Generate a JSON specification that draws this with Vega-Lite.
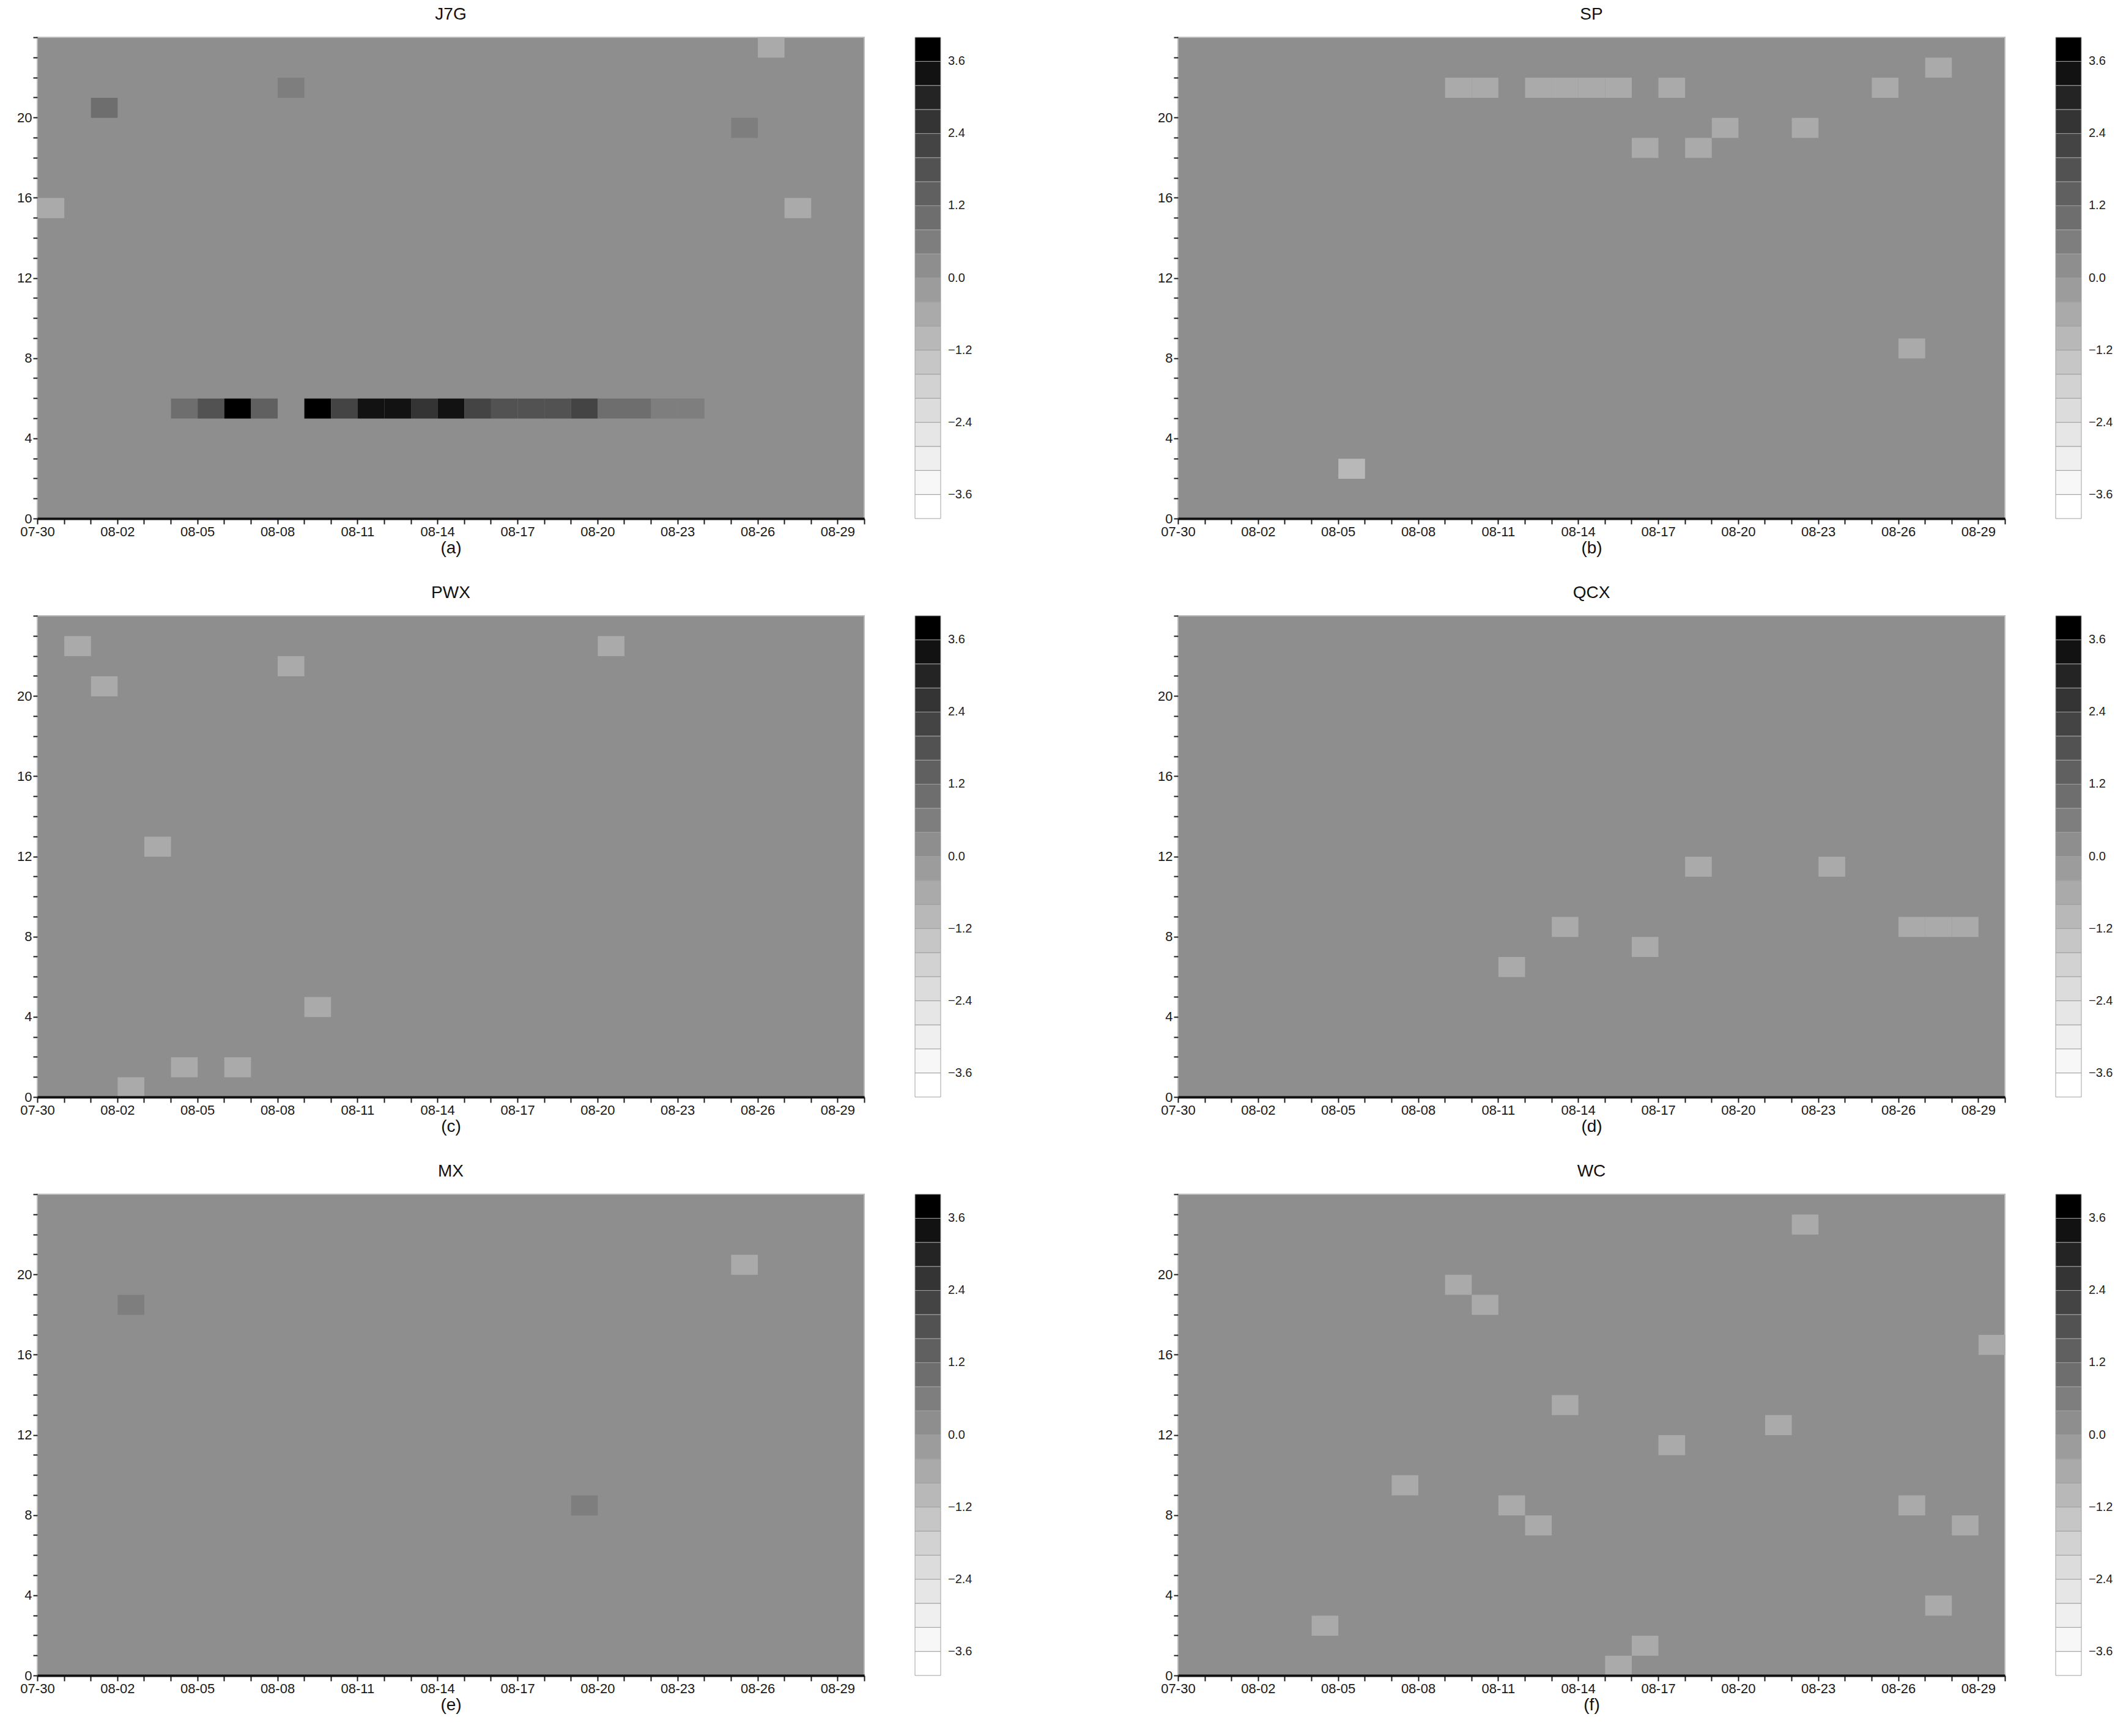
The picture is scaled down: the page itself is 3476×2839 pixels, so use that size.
{
  "$schema": "https://vega.github.io/schema/vega-lite/v6.json",
  "background": "white",
  "padding": {"left": 26, "top": 9, "right": 5, "bottom": 5},
  "columns": 2,
  "spacing": {"row": 44, "column": 300},
  "datasets": {
    "cells": [
      {"p": "J7G", "d": 0, "h": 15, "v": -0.6},
      {"p": "J7G", "d": 2, "h": 20, "v": 1.0},
      {"p": "J7G", "d": 9, "h": 21, "v": 0.6},
      {"p": "J7G", "d": 26, "h": 19, "v": 0.6},
      {"p": "J7G", "d": 27, "h": 23, "v": -0.6},
      {"p": "J7G", "d": 28, "h": 15, "v": -0.6},
      {"p": "J7G", "d": 5, "h": 5, "v": 1.0},
      {"p": "J7G", "d": 6, "h": 5, "v": 1.9},
      {"p": "J7G", "d": 7, "h": 5, "v": 3.8},
      {"p": "J7G", "d": 8, "h": 5, "v": 1.5},
      {"p": "J7G", "d": 10, "h": 5, "v": 3.8},
      {"p": "J7G", "d": 11, "h": 5, "v": 2.2},
      {"p": "J7G", "d": 12, "h": 5, "v": 3.3},
      {"p": "J7G", "d": 13, "h": 5, "v": 3.3},
      {"p": "J7G", "d": 14, "h": 5, "v": 2.7},
      {"p": "J7G", "d": 15, "h": 5, "v": 3.4},
      {"p": "J7G", "d": 16, "h": 5, "v": 2.1},
      {"p": "J7G", "d": 17, "h": 5, "v": 1.7},
      {"p": "J7G", "d": 18, "h": 5, "v": 1.7},
      {"p": "J7G", "d": 19, "h": 5, "v": 1.7},
      {"p": "J7G", "d": 20, "h": 5, "v": 2.3},
      {"p": "J7G", "d": 21, "h": 5, "v": 1.0},
      {"p": "J7G", "d": 22, "h": 5, "v": 1.0},
      {"p": "J7G", "d": 23, "h": 5, "v": 0.5},
      {"p": "J7G", "d": 24, "h": 5, "v": 0.5},
      {"p": "SP", "d": 10, "h": 21, "v": -0.6},
      {"p": "SP", "d": 11, "h": 21, "v": -0.6},
      {"p": "SP", "d": 13, "h": 21, "v": -0.6},
      {"p": "SP", "d": 14, "h": 21, "v": -0.6},
      {"p": "SP", "d": 15, "h": 21, "v": -0.6},
      {"p": "SP", "d": 16, "h": 21, "v": -0.6},
      {"p": "SP", "d": 18, "h": 21, "v": -0.6},
      {"p": "SP", "d": 26, "h": 21, "v": -0.6},
      {"p": "SP", "d": 28, "h": 22, "v": -0.6},
      {"p": "SP", "d": 20, "h": 19, "v": -0.6},
      {"p": "SP", "d": 23, "h": 19, "v": -0.6},
      {"p": "SP", "d": 17, "h": 18, "v": -0.6},
      {"p": "SP", "d": 19, "h": 18, "v": -0.6},
      {"p": "SP", "d": 27, "h": 8, "v": -0.6},
      {"p": "SP", "d": 6, "h": 2, "v": -1.0},
      {"p": "PWX", "d": 1, "h": 22, "v": -0.6},
      {"p": "PWX", "d": 2, "h": 20, "v": -0.6},
      {"p": "PWX", "d": 9, "h": 21, "v": -0.6},
      {"p": "PWX", "d": 21, "h": 22, "v": -0.6},
      {"p": "PWX", "d": 4, "h": 12, "v": -0.6},
      {"p": "PWX", "d": 10, "h": 4, "v": -0.6},
      {"p": "PWX", "d": 5, "h": 1, "v": -0.6},
      {"p": "PWX", "d": 7, "h": 1, "v": -0.6},
      {"p": "PWX", "d": 3, "h": 0, "v": -0.6},
      {"p": "QCX", "d": 12, "h": 6, "v": -0.6},
      {"p": "QCX", "d": 14, "h": 8, "v": -0.6},
      {"p": "QCX", "d": 17, "h": 7, "v": -0.6},
      {"p": "QCX", "d": 19, "h": 11, "v": -0.6},
      {"p": "QCX", "d": 24, "h": 11, "v": -0.6},
      {"p": "QCX", "d": 27, "h": 8, "v": -0.6},
      {"p": "QCX", "d": 28, "h": 8, "v": -0.6},
      {"p": "QCX", "d": 29, "h": 8, "v": -0.6},
      {"p": "MX", "d": 3, "h": 18, "v": 0.6},
      {"p": "MX", "d": 20, "h": 8, "v": 0.6},
      {"p": "MX", "d": 26, "h": 20, "v": -0.6},
      {"p": "WC", "d": 23, "h": 22, "v": -0.6},
      {"p": "WC", "d": 10, "h": 19, "v": -0.6},
      {"p": "WC", "d": 11, "h": 18, "v": -0.6},
      {"p": "WC", "d": 30, "h": 16, "v": -0.6},
      {"p": "WC", "d": 14, "h": 13, "v": -0.6},
      {"p": "WC", "d": 22, "h": 12, "v": -0.6},
      {"p": "WC", "d": 18, "h": 11, "v": -0.6},
      {"p": "WC", "d": 8, "h": 9, "v": -0.6},
      {"p": "WC", "d": 12, "h": 8, "v": -0.6},
      {"p": "WC", "d": 13, "h": 7, "v": -0.6},
      {"p": "WC", "d": 27, "h": 8, "v": -0.6},
      {"p": "WC", "d": 29, "h": 7, "v": -0.6},
      {"p": "WC", "d": 28, "h": 3, "v": -0.6},
      {"p": "WC", "d": 5, "h": 2, "v": -0.6},
      {"p": "WC", "d": 17, "h": 1, "v": -0.6},
      {"p": "WC", "d": 16, "h": 0, "v": -0.6}
    ]
  },
  "data": {"name": "cells"},
  "concat": [
    {
      "title": "J7G", "width": 1352, "height": 787,
      "transform": [{"filter": "datum.p === 'J7G'"}],
      "mark": {"type": "rect"},
      "encoding": {
        "x": {"field": "d", "type": "quantitative", "bin": {"binned": true, "step": 1}, "scale": {"domain": [0, 31], "nice": false, "zero": false},
          "axis": {"title": "(a)", "values": [0,1,2,3,4,5,6,7,8,9,10,11,12,13,14,15,16,17,18,19,20,21,22,23,24,25,26,27,28,29,30,31], "labelExpr": "datum.value % 3 === 0 && datum.value < 31 ? timeFormat(datetime(2024, 6, 30 + datum.value), '%m-%d') : ''"}},
        "y": {"field": "h", "type": "quantitative", "bin": {"binned": true, "step": 1}, "scale": {"domain": [0, 24], "nice": false, "zero": false},
          "axis": {"title": null, "values": [0,1,2,3,4,5,6,7,8,9,10,11,12,13,14,15,16,17,18,19,20,21,22,23,24], "labelExpr": "datum.value % 4 === 0 && datum.value < 24 ? datum.value : ''"}},
        "color": {"field": "v", "type": "quantitative",
          "scale": {"type": "threshold", "domain": [-3.6,-3.2,-2.8,-2.4,-2.0,-1.6,-1.2,-0.8,-0.4,0,0.4,0.8,1.2,1.6,2.0,2.4,2.8,3.2,3.6],
            "range": ["#ffffff","#f7f7f7","#efefef","#e6e6e6","#dcdcdc","#d2d2d2","#c6c6c6","#b8b8b8","#aaaaaa","#9c9c9c","#8e8e8e","#7e7e7e","#6e6e6e","#606060","#525252","#444444","#343434","#242424","#121212","#000000"]},
          "legend": {"type": "gradient", "title": null, "orient": "right", "offset": 83, "gradientLength": 787, "gradientThickness": 42, "gradientStrokeColor": "#a0a0a0", "gradientStrokeWidth": 1, "labelExpr": "abs(round(datum.value * 10)) % 12 === 0 ? format(datum.value, '.1f') : ''", "labelOverlap": false, "labelFontSize": 20, "labelOffset": 12, "labelColor": "#222222", "padding": 0}}
      }
    },
    {
      "title": "SP", "width": 1352, "height": 787,
      "transform": [{"filter": "datum.p === 'SP'"}],
      "mark": {"type": "rect"},
      "encoding": {
        "x": {"field": "d", "type": "quantitative", "bin": {"binned": true, "step": 1}, "scale": {"domain": [0, 31], "nice": false, "zero": false},
          "axis": {"title": "(b)", "values": [0,1,2,3,4,5,6,7,8,9,10,11,12,13,14,15,16,17,18,19,20,21,22,23,24,25,26,27,28,29,30,31], "labelExpr": "datum.value % 3 === 0 && datum.value < 31 ? timeFormat(datetime(2024, 6, 30 + datum.value), '%m-%d') : ''"}},
        "y": {"field": "h", "type": "quantitative", "bin": {"binned": true, "step": 1}, "scale": {"domain": [0, 24], "nice": false, "zero": false},
          "axis": {"title": null, "values": [0,1,2,3,4,5,6,7,8,9,10,11,12,13,14,15,16,17,18,19,20,21,22,23,24], "labelExpr": "datum.value % 4 === 0 && datum.value < 24 ? datum.value : ''"}},
        "color": {"field": "v", "type": "quantitative",
          "scale": {"type": "threshold", "domain": [-3.6,-3.2,-2.8,-2.4,-2.0,-1.6,-1.2,-0.8,-0.4,0,0.4,0.8,1.2,1.6,2.0,2.4,2.8,3.2,3.6],
            "range": ["#ffffff","#f7f7f7","#efefef","#e6e6e6","#dcdcdc","#d2d2d2","#c6c6c6","#b8b8b8","#aaaaaa","#9c9c9c","#8e8e8e","#7e7e7e","#6e6e6e","#606060","#525252","#444444","#343434","#242424","#121212","#000000"]},
          "legend": {"type": "gradient", "title": null, "orient": "right", "offset": 83, "gradientLength": 787, "gradientThickness": 42, "gradientStrokeColor": "#a0a0a0", "gradientStrokeWidth": 1, "labelExpr": "abs(round(datum.value * 10)) % 12 === 0 ? format(datum.value, '.1f') : ''", "labelOverlap": false, "labelFontSize": 20, "labelOffset": 12, "labelColor": "#222222", "padding": 0}}
      }
    },
    {
      "title": "PWX", "width": 1352, "height": 787,
      "transform": [{"filter": "datum.p === 'PWX'"}],
      "mark": {"type": "rect"},
      "encoding": {
        "x": {"field": "d", "type": "quantitative", "bin": {"binned": true, "step": 1}, "scale": {"domain": [0, 31], "nice": false, "zero": false},
          "axis": {"title": "(c)", "values": [0,1,2,3,4,5,6,7,8,9,10,11,12,13,14,15,16,17,18,19,20,21,22,23,24,25,26,27,28,29,30,31], "labelExpr": "datum.value % 3 === 0 && datum.value < 31 ? timeFormat(datetime(2024, 6, 30 + datum.value), '%m-%d') : ''"}},
        "y": {"field": "h", "type": "quantitative", "bin": {"binned": true, "step": 1}, "scale": {"domain": [0, 24], "nice": false, "zero": false},
          "axis": {"title": null, "values": [0,1,2,3,4,5,6,7,8,9,10,11,12,13,14,15,16,17,18,19,20,21,22,23,24], "labelExpr": "datum.value % 4 === 0 && datum.value < 24 ? datum.value : ''"}},
        "color": {"field": "v", "type": "quantitative",
          "scale": {"type": "threshold", "domain": [-3.6,-3.2,-2.8,-2.4,-2.0,-1.6,-1.2,-0.8,-0.4,0,0.4,0.8,1.2,1.6,2.0,2.4,2.8,3.2,3.6],
            "range": ["#ffffff","#f7f7f7","#efefef","#e6e6e6","#dcdcdc","#d2d2d2","#c6c6c6","#b8b8b8","#aaaaaa","#9c9c9c","#8e8e8e","#7e7e7e","#6e6e6e","#606060","#525252","#444444","#343434","#242424","#121212","#000000"]},
          "legend": {"type": "gradient", "title": null, "orient": "right", "offset": 83, "gradientLength": 787, "gradientThickness": 42, "gradientStrokeColor": "#a0a0a0", "gradientStrokeWidth": 1, "labelExpr": "abs(round(datum.value * 10)) % 12 === 0 ? format(datum.value, '.1f') : ''", "labelOverlap": false, "labelFontSize": 20, "labelOffset": 12, "labelColor": "#222222", "padding": 0}}
      }
    },
    {
      "title": "QCX", "width": 1352, "height": 787,
      "transform": [{"filter": "datum.p === 'QCX'"}],
      "mark": {"type": "rect"},
      "encoding": {
        "x": {"field": "d", "type": "quantitative", "bin": {"binned": true, "step": 1}, "scale": {"domain": [0, 31], "nice": false, "zero": false},
          "axis": {"title": "(d)", "values": [0,1,2,3,4,5,6,7,8,9,10,11,12,13,14,15,16,17,18,19,20,21,22,23,24,25,26,27,28,29,30,31], "labelExpr": "datum.value % 3 === 0 && datum.value < 31 ? timeFormat(datetime(2024, 6, 30 + datum.value), '%m-%d') : ''"}},
        "y": {"field": "h", "type": "quantitative", "bin": {"binned": true, "step": 1}, "scale": {"domain": [0, 24], "nice": false, "zero": false},
          "axis": {"title": null, "values": [0,1,2,3,4,5,6,7,8,9,10,11,12,13,14,15,16,17,18,19,20,21,22,23,24], "labelExpr": "datum.value % 4 === 0 && datum.value < 24 ? datum.value : ''"}},
        "color": {"field": "v", "type": "quantitative",
          "scale": {"type": "threshold", "domain": [-3.6,-3.2,-2.8,-2.4,-2.0,-1.6,-1.2,-0.8,-0.4,0,0.4,0.8,1.2,1.6,2.0,2.4,2.8,3.2,3.6],
            "range": ["#ffffff","#f7f7f7","#efefef","#e6e6e6","#dcdcdc","#d2d2d2","#c6c6c6","#b8b8b8","#aaaaaa","#9c9c9c","#8e8e8e","#7e7e7e","#6e6e6e","#606060","#525252","#444444","#343434","#242424","#121212","#000000"]},
          "legend": {"type": "gradient", "title": null, "orient": "right", "offset": 83, "gradientLength": 787, "gradientThickness": 42, "gradientStrokeColor": "#a0a0a0", "gradientStrokeWidth": 1, "labelExpr": "abs(round(datum.value * 10)) % 12 === 0 ? format(datum.value, '.1f') : ''", "labelOverlap": false, "labelFontSize": 20, "labelOffset": 12, "labelColor": "#222222", "padding": 0}}
      }
    },
    {
      "title": "MX", "width": 1352, "height": 787,
      "transform": [{"filter": "datum.p === 'MX'"}],
      "mark": {"type": "rect"},
      "encoding": {
        "x": {"field": "d", "type": "quantitative", "bin": {"binned": true, "step": 1}, "scale": {"domain": [0, 31], "nice": false, "zero": false},
          "axis": {"title": "(e)", "values": [0,1,2,3,4,5,6,7,8,9,10,11,12,13,14,15,16,17,18,19,20,21,22,23,24,25,26,27,28,29,30,31], "labelExpr": "datum.value % 3 === 0 && datum.value < 31 ? timeFormat(datetime(2024, 6, 30 + datum.value), '%m-%d') : ''"}},
        "y": {"field": "h", "type": "quantitative", "bin": {"binned": true, "step": 1}, "scale": {"domain": [0, 24], "nice": false, "zero": false},
          "axis": {"title": null, "values": [0,1,2,3,4,5,6,7,8,9,10,11,12,13,14,15,16,17,18,19,20,21,22,23,24], "labelExpr": "datum.value % 4 === 0 && datum.value < 24 ? datum.value : ''"}},
        "color": {"field": "v", "type": "quantitative",
          "scale": {"type": "threshold", "domain": [-3.6,-3.2,-2.8,-2.4,-2.0,-1.6,-1.2,-0.8,-0.4,0,0.4,0.8,1.2,1.6,2.0,2.4,2.8,3.2,3.6],
            "range": ["#ffffff","#f7f7f7","#efefef","#e6e6e6","#dcdcdc","#d2d2d2","#c6c6c6","#b8b8b8","#aaaaaa","#9c9c9c","#8e8e8e","#7e7e7e","#6e6e6e","#606060","#525252","#444444","#343434","#242424","#121212","#000000"]},
          "legend": {"type": "gradient", "title": null, "orient": "right", "offset": 83, "gradientLength": 787, "gradientThickness": 42, "gradientStrokeColor": "#a0a0a0", "gradientStrokeWidth": 1, "labelExpr": "abs(round(datum.value * 10)) % 12 === 0 ? format(datum.value, '.1f') : ''", "labelOverlap": false, "labelFontSize": 20, "labelOffset": 12, "labelColor": "#222222", "padding": 0}}
      }
    },
    {
      "title": "WC", "width": 1352, "height": 787,
      "transform": [{"filter": "datum.p === 'WC'"}],
      "mark": {"type": "rect"},
      "encoding": {
        "x": {"field": "d", "type": "quantitative", "bin": {"binned": true, "step": 1}, "scale": {"domain": [0, 31], "nice": false, "zero": false},
          "axis": {"title": "(f)", "values": [0,1,2,3,4,5,6,7,8,9,10,11,12,13,14,15,16,17,18,19,20,21,22,23,24,25,26,27,28,29,30,31], "labelExpr": "datum.value % 3 === 0 && datum.value < 31 ? timeFormat(datetime(2024, 6, 30 + datum.value), '%m-%d') : ''"}},
        "y": {"field": "h", "type": "quantitative", "bin": {"binned": true, "step": 1}, "scale": {"domain": [0, 24], "nice": false, "zero": false},
          "axis": {"title": null, "values": [0,1,2,3,4,5,6,7,8,9,10,11,12,13,14,15,16,17,18,19,20,21,22,23,24], "labelExpr": "datum.value % 4 === 0 && datum.value < 24 ? datum.value : ''"}},
        "color": {"field": "v", "type": "quantitative",
          "scale": {"type": "threshold", "domain": [-3.6,-3.2,-2.8,-2.4,-2.0,-1.6,-1.2,-0.8,-0.4,0,0.4,0.8,1.2,1.6,2.0,2.4,2.8,3.2,3.6],
            "range": ["#ffffff","#f7f7f7","#efefef","#e6e6e6","#dcdcdc","#d2d2d2","#c6c6c6","#b8b8b8","#aaaaaa","#9c9c9c","#8e8e8e","#7e7e7e","#6e6e6e","#606060","#525252","#444444","#343434","#242424","#121212","#000000"]},
          "legend": {"type": "gradient", "title": null, "orient": "right", "offset": 83, "gradientLength": 787, "gradientThickness": 42, "gradientStrokeColor": "#a0a0a0", "gradientStrokeWidth": 1, "labelExpr": "abs(round(datum.value * 10)) % 12 === 0 ? format(datum.value, '.1f') : ''", "labelOverlap": false, "labelFontSize": 20, "labelOffset": 12, "labelColor": "#222222", "padding": 0}}
      }
    }
  ],
  "resolve": {"scale": {"color": "independent"}, "legend": {"color": "independent"}},
  "config": {
    "font": "Liberation Sans",
    "view": {"fill": "#8e8e8e", "stroke": "#bdbdbd", "strokeWidth": 2},
    "title": {"font": "Liberation Sans", "fontSize": 28, "fontWeight": "normal", "color": "#111111", "offset": 12},
    "axis": {"labelFont": "Liberation Sans", "labelFontSize": 22, "labelColor": "#1a1a1a", "tickColor": "#1a1a1a", "tickWidth": 2, "tickSize": 9, "grid": false, "labelFlush": false, "labelOverlap": false, "titleFont": "Liberation Sans", "titleFontSize": 28, "titleFontWeight": "normal", "titleColor": "#111111", "titlePadding": 2},
    "axisX": {"domainColor": "#111111", "domainWidth": 4},
    "axisY": {"domain": false, "tickSize": 7},
    "legend": {"labelFont": "Liberation Sans"}
  }
}
